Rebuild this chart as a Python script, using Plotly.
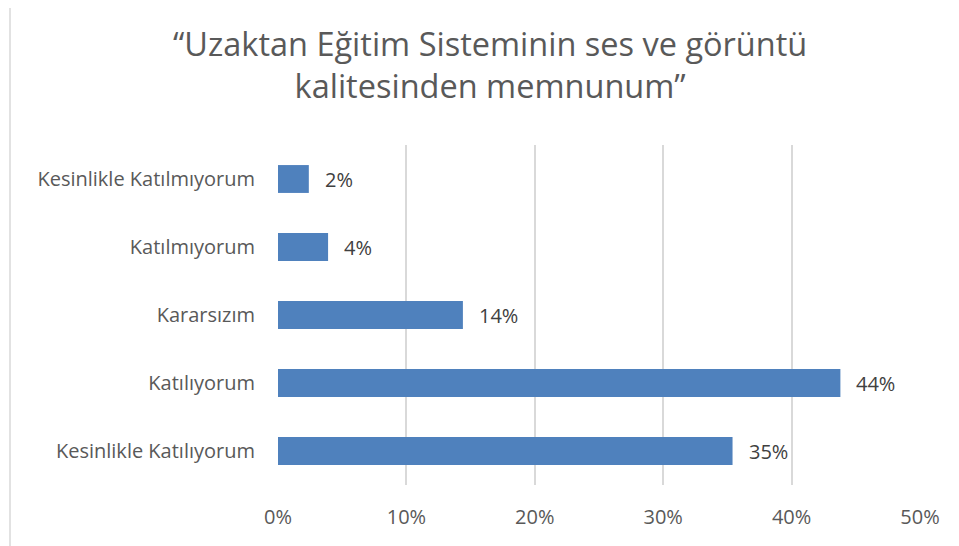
import plotly.graph_objects as go

categories = ["Kesinlikle Katılıyorum", "Katılıyorum", "Kararsızım", "Katılmıyorum", "Kesinlikle Katılmıyorum"]
values = [35.4, 43.8, 14.4, 3.9, 2.4]
labels = ["35%", "44%", "14%", "4%", "2%"]
x_ticks = [0, 10, 20, 30, 40, 50]
x_tick_labels = ["0%", "10%", "20%", "30%", "40%", "50%"]
title_text = "“Uzaktan Eğitim Sisteminin ses ve görüntü<br>kalitesinden memnunum”"

FONT = "Open Sans"
W, H = 951, 538
L, R, T, B = 270, 39, 137, 61
PW, PH = W - L - R, H - T - B

fig = go.Figure()
fig.add_trace(go.Bar(
    x=values, y=categories, orientation="h",
    marker=dict(color="#4F81BD", line=dict(width=0)),
    hoverinfo="skip",
))
for v, c, t in zip(values, categories, labels):
    fig.add_annotation(x=v, y=c, text=t, showarrow=False, xanchor="left",
                       xshift=14, font=dict(family=FONT, size=20, color="#404040"))

fig.add_annotation(text=title_text, xref="paper", yref="paper",
                   x=(482 - L) / PW, y=(H - B - 57) / PH,
                   xanchor="center", yanchor="middle", showarrow=False,
                   font=dict(family=FONT, size=32.5, color="#595959"))

fig.update_layout(
    width=W, height=H,
    margin=dict(l=L, r=R, t=T, b=B),
    paper_bgcolor="white", plot_bgcolor="white",
    bargap=0.59,
    showlegend=False,
    xaxis=dict(range=[0, 50], tickvals=x_ticks, ticktext=x_tick_labels,
               showgrid=True, gridcolor="#D9D9D9", gridwidth=1.5, zeroline=False,
               showline=False, ticks="", ticklabelstandoff=18,
               tickfont=dict(family=FONT, size=20, color="#595959")),
    yaxis=dict(showgrid=False, zeroline=False, showline=False, ticks="",
               ticklabelstandoff=22,
               tickfont=dict(family=FONT, size=20, color="#595959")),
    shapes=[dict(type="line", xref="paper", yref="paper",
                 x0=(2 - L) / PW, x1=(2 - L) / PW, y0=-0.5, y1=2,
                 line=dict(color="#D9D9D9", width=1.5), layer="below")],
)
fig.write_html("out.html")
